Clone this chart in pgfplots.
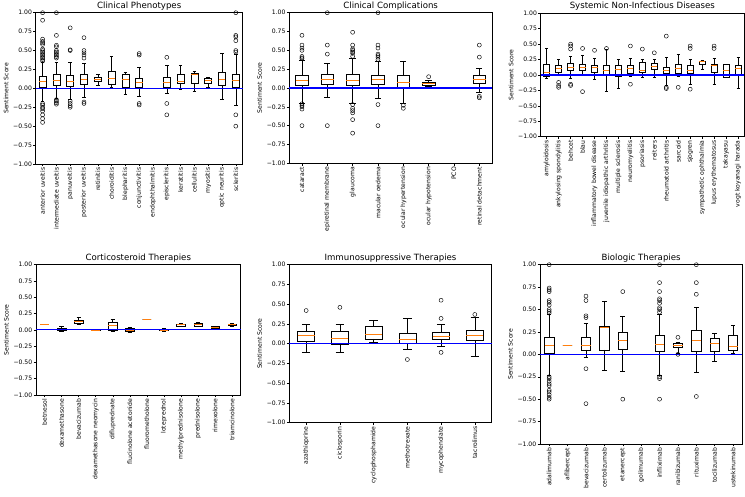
\documentclass[border=0pt]{standalone}
\usepackage{fontspec}
\setmainfont{DejaVu Sans}
\usepackage{pgfplots}
\pgfplotsset{compat=1.18}
\usepgfplotslibrary{statistics}
\definecolor{mplorange}{HTML}{FF7F0E}
\pgfplotsset{
  panel/.style={
    scale only axis, anchor=north west,
    ymin=-1, ymax=1,
    ytick={-1,-0.75,-0.5,-0.25,0,0.25,0.5,0.75,1},
    yticklabels={−1.00,−0.75,−0.50,−0.25,0.00,0.25,0.50,0.75,1.00},
    tick align=outside, tick pos=left,
    major tick length=2.4pt,
    tick style={black, line width=0.5pt},
    axis line style={line width=0.6pt},
    tick label style={font=\fontsize{6.1}{7}\selectfont},
    x tick label style={rotate=90, anchor=east, inner sep=1.2pt},
    y tick label style={inner sep=1.2pt},
    ylabel={Sentiment Score},
    ylabel style={font=\fontsize{6.1}{7}\selectfont},
    title style={font=\fontsize{8.6}{10}\selectfont, at={(0.5,1)}, anchor=south, inner sep=0pt, yshift=-3.6pt},
    clip=false,
    boxplot/draw direction=y,
    boxplot/box extend=0.5,
    boxplot/whisker extend=0.25,
    boxplot/every median/.style={draw=mplorange, line width=0.7pt},
  },
}
\newcommand{\bx}[7]{\addplot[black, line width=0.55pt, mark=o, mark size=2pt, mark options={line width=0.45pt}, boxplot prepared={draw position=#1, lower whisker=#2, lower quartile=#3, median=#4, upper quartile=#5, upper whisker=#6}] coordinates {#7};}
\begin{document}
\begin{tikzpicture}
\useasboundingbox (0,0) rectangle (745pt,-497pt);
% Panel 1
\begin{axis}[panel, at={(35.7pt,-12.7pt)}, width=207pt, height=151.3pt,
  title={Clinical Phenotypes}, xmin=0.5, xmax=15.5, xtick={1,...,15},
  xticklabels={anterior uveitis,intermediate uveitis,panuveitis,posterior uveitis,retinitis,choroiditis,blepharitis,conjunctivitis,endophthalmitis,episcleritis,keratitis,cellulitis,myositis,optic neuritis,scleritis}]
\bx{1}{-0.17}{0.01}{0.09}{0.16}{0.35}{(1,1.0)(1,0.9)(1,0.65)(1,0.62)(1,0.6)(1,0.58)(1,0.52)(1,0.5)(1,0.48)(1,0.46)(1,0.44)(1,0.42)(1,0.4)(1,0.38)(1,0.36)(1,-0.2)(1,-0.22)(1,-0.25)(1,-0.27)(1,-0.3)(1,-0.35)(1,-0.4)(1,-0.45)}
\bx{2}{-0.13}{0.04}{0.11}{0.18}{0.35}{(2,1.0)(2,0.7)(2,0.57)(2,0.55)(2,0.5)(2,0.48)(2,0.46)(2,0.44)(2,0.42)(2,0.4)(2,-0.15)(2,-0.17)(2,-0.19)(2,-0.21)}
\bx{3}{-0.15}{0.03}{0.095}{0.17}{0.35}{(3,0.8)(3,0.51)(3,0.5)(3,-0.17)(3,-0.2)(3,-0.23)(3,-0.25)}
\bx{4}{-0.12}{0.05}{0.12}{0.18}{0.33}{(4,0.67)(4,0.5)(4,0.47)(4,0.44)(4,0.4)(4,-0.18)(4,-0.2)}
\bx{5}{0.04}{0.10}{0.125}{0.15}{0.19}{}
\bx{6}{0.01}{0.06}{0.13}{0.23}{0.42}{}
\bx{7}{-0.08}{0.01}{0.12}{0.18}{0.21}{}
\bx{8}{-0.1}{0.01}{0.08}{0.13}{0.28}{(8,0.46)(8,0.44)(8,-0.2)(8,-0.22)}
\bx{10}{-0.06}{0.02}{0.08}{0.14}{0.3}{(10,0.41)(10,-0.2)(10,-0.35)}
\bx{11}{-0.01}{0.07}{0.09}{0.18}{0.3}{}
\bx{12}{-0.04}{0.07}{0.19}{0.2}{0.22}{}
\bx{13}{0.02}{0.07}{0.11}{0.13}{0.15}{}
\bx{14}{-0.15}{0.04}{0.12}{0.21}{0.47}{}
\bx{15}{-0.23}{0.02}{0.1}{0.18}{0.45}{(15,1.0)(15,0.7)(15,0.68)(15,0.63)(15,0.5)(15,0.48)(15,-0.35)(15,-0.5)}
\addplot[blue, line width=1.1pt] coordinates {(0.5,0) (15.5,0)};
\end{axis}
% Panel 2
\begin{axis}[panel, at={(289.3pt,-12.7pt)}, width=202.7pt, height=150.6pt,
  title={Clinical Complications}, xmin=0.5, xmax=8.5, xtick={1,...,8},
  xticklabels={cataract,epiretinal membrane,glaucoma,macular oedema,ocular hypertension,ocular hypotension,PCO,retinal detachment}]
\bx{1}{-0.2}{0.03}{0.1}{0.17}{0.37}{(1,0.7)(1,0.57)(1,0.53)(1,0.5)(1,0.42)(1,0.4)(1,0.39)(1,-0.21)(1,-0.23)(1,-0.25)(1,-0.28)(1,-0.5)}
\bx{2}{-0.12}{0.05}{0.11}{0.18}{0.33}{(2,1.0)(2,0.57)(2,0.45)(2,-0.5)}
\bx{3}{-0.2}{0.03}{0.1}{0.18}{0.4}{(3,0.74)(3,0.57)(3,0.52)(3,0.5)(3,0.48)(3,0.46)(3,0.42)(3,-0.22)(3,-0.27)(3,-0.3)(3,-0.33)(3,-0.42)(3,-0.6)}
\bx{4}{-0.13}{0.05}{0.12}{0.17}{0.35}{(4,1.0)(4,0.57)(4,0.53)(4,0.45)(4,0.43)(4,0.41)(4,0.38)(4,-0.22)(4,-0.5)}
\bx{5}{-0.2}{0.01}{0.07}{0.17}{0.35}{(5,-0.23)(5,-0.27)}
\bx{6}{0.02}{0.04}{0.06}{0.08}{0.1}{(6,0.15)}
\bx{8}{-0.06}{0.06}{0.11}{0.17}{0.26}{(8,0.57)(8,0.41)(8,-0.11)(8,-0.13)}
\addplot[blue, line width=1.1pt] coordinates {(0.5,0) (8.5,0)};
\end{axis}
% Panel 3
\begin{axis}[panel, at={(540.7pt,-13.3pt)}, width=203.3pt, height=123.4pt,
  title={Systemic Non-Infectious Diseases}, xmin=0.5, xmax=17.5, xtick={1,...,17},
  xticklabels={amyloidosis,ankylosing spondylitis,behcet,blau,inflammatory bowel disease,juvenile idiopathic arthritis,multiple sclerosis,neuromyelitis,psoriasis,reiters,rheumatoid arthritis,sarcoid,sjogren,sympathetic ophthalmia,lupus erythematosus,takayasu,vogt koyanagi harada}]
\bx{1}{-0.05}{-0.02}{0.04}{0.18}{0.43}{}
\bx{2}{0.0}{0.05}{0.11}{0.15}{0.25}{(2,-0.12)(2,-0.17)(2,-0.2)}
\bx{3}{-0.05}{0.08}{0.13}{0.19}{0.3}{(3,0.5)(3,0.47)(3,0.42)(3,-0.15)(3,-0.17)}
\bx{4}{0.0}{0.07}{0.12}{0.17}{0.32}{(4,0.43)(4,-0.27)}
\bx{5}{-0.07}{0.05}{0.12}{0.15}{0.27}{(5,0.4)}
\bx{6}{-0.27}{0.0}{0.07}{0.16}{0.41}{(6,0.43)}
\bx{7}{-0.22}{-0.02}{0.09}{0.15}{0.25}{}
\bx{8}{-0.02}{0.03}{0.1}{0.15}{0.27}{(8,0.47)(8,-0.15)}
\bx{9}{-0.04}{0.04}{0.08}{0.2}{0.26}{(9,0.42)}
\bx{10}{-0.04}{0.1}{0.14}{0.19}{0.26}{(10,0.36)}
\bx{11}{-0.16}{0.02}{0.07}{0.12}{0.28}{(11,0.63)(11,-0.2)(11,-0.22)}
\bx{12}{-0.02}{0.03}{0.1}{0.17}{0.33}{(12,-0.2)}
\bx{13}{-0.15}{0.03}{0.07}{0.16}{0.25}{(13,0.47)(13,0.43)(13,-0.23)}
\bx{14}{0.1}{0.18}{0.22}{0.23}{0.24}{}
\bx{15}{-0.15}{0.04}{0.15}{0.18}{0.27}{(15,0.47)(15,0.43)}
\bx{16}{-0.04}{-0.03}{0.07}{0.17}{0.18}{}
\bx{17}{-0.22}{0.0}{0.11}{0.16}{0.28}{}
\addplot[blue, line width=1.1pt] coordinates {(0.5,0) (17.5,0)};
\end{axis}
% Panel 4
\begin{axis}[panel, at={(36pt,-264.7pt)}, width=204.7pt, height=130.3pt,
  title={Corticosteroid Therapies}, xmin=0.5, xmax=12.5, xtick={1,...,12},
  xticklabels={betnesol,dexamethasone,bevacizumab,dexamethasone neomycin,difluprednate,flucinolone acetonide,fluorometholone,loteprednol,methylprednisolone,prednisolone,rimexolone,triamcinolone}]
\bx{1}{0.085}{0.085}{0.085}{0.085}{0.085}{}
\bx{2}{-0.02}{-0.01}{0.01}{0.03}{0.05}{}
\bx{3}{0.08}{0.1}{0.13}{0.15}{0.2}{}
\bx{4}{-0.01}{-0.01}{0.0}{0.01}{0.01}{}
\bx{5}{-0.02}{0.0}{0.07}{0.12}{0.17}{}
\bx{6}{-0.03}{-0.02}{0.0}{0.02}{0.04}{}
\bx{7}{0.155}{0.155}{0.155}{0.155}{0.155}{}
\bx{8}{-0.02}{-0.01}{0.0}{0.01}{0.03}{}
\bx{9}{0.05}{0.06}{0.08}{0.09}{0.1}{}
\bx{10}{0.05}{0.06}{0.08}{0.1}{0.12}{}
\bx{11}{0.01}{0.02}{0.035}{0.05}{0.06}{}
\bx{12}{0.06}{0.065}{0.08}{0.09}{0.1}{}
\addplot[blue, line width=1.1pt] coordinates {(0.5,0) (12.5,0)};
\end{axis}
% Panel 5
\begin{axis}[panel, at={(289.3pt,-264.7pt)}, width=202.4pt, height=158pt,
  title={Immunosuppressive Therapies}, xmin=0.5, xmax=6.5, xtick={1,...,6},
  xticklabels={azathioprine,ciclosporin,cyclophosphamide,methotrexate,mycophenolate,tacrolimus}]
\bx{1}{-0.11}{0.03}{0.11}{0.16}{0.25}{(1,0.42)}
\bx{2}{-0.11}{-0.01}{0.07}{0.16}{0.25}{(2,0.46)}
\bx{3}{0.02}{0.06}{0.12}{0.22}{0.3}{}
\bx{4}{-0.07}{0.0}{0.05}{0.13}{0.32}{(4,-0.2)}
\bx{5}{-0.03}{0.05}{0.09}{0.15}{0.25}{(5,0.55)(5,0.32)(5,-0.11)}
\bx{6}{-0.16}{0.04}{0.11}{0.17}{0.33}{(6,0.37)}
\addplot[blue, line width=1.1pt] coordinates {(0.5,0) (6.5,0)};
\end{axis}
% Panel 6
\begin{axis}[panel, at={(540pt,-264.7pt)}, width=202.3pt, height=179.3pt,
  title={Biologic Therapies}, xmin=0.5, xmax=11.5, xtick={1,...,11},
  xticklabels={adalimumab,aflibercept,bevacizumab,certolizumab,etanercept,golimumab,infliximab,ranibizumab,rituximab,tocilizumab,ustekinumab}]
\bx{1}{-0.23}{0.01}{0.1}{0.19}{0.45}{(1,1.0)(1,0.74)(1,0.72)(1,0.7)(1,0.6)(1,0.58)(1,0.55)(1,0.5)(1,0.48)(1,0.46)(1,-0.25)(1,-0.27)(1,-0.3)(1,-0.33)(1,-0.35)(1,-0.4)(1,-0.42)(1,-0.45)(1,-0.48)(1,-0.5)}
\bx{2}{0.1}{0.1}{0.1}{0.1}{0.1}{}
\bx{3}{-0.03}{0.05}{0.1}{0.19}{0.35}{(3,0.65)(3,0.6)(3,0.43)(3,0.41)(3,-0.16)(3,-0.55)}
\bx{4}{-0.18}{0.05}{0.3}{0.31}{0.59}{}
\bx{5}{-0.19}{0.06}{0.16}{0.25}{0.43}{(5,0.7)(5,-0.5)}
\bx{7}{-0.23}{0.03}{0.11}{0.21}{0.45}{(7,1.0)(7,0.8)(7,0.7)(7,0.62)(7,0.6)(7,0.57)(7,0.52)(7,0.5)(7,0.47)(7,-0.25)(7,-0.27)(7,-0.5)}
\bx{8}{0.01}{0.08}{0.1}{0.12}{0.14}{(8,0.19)(8,0.0)}
\bx{9}{-0.2}{0.03}{0.16}{0.27}{0.53}{(9,1.0)(9,0.8)(9,0.67)(9,-0.47)}
\bx{10}{-0.08}{0.03}{0.12}{0.18}{0.24}{}
\bx{11}{0.01}{0.05}{0.09}{0.21}{0.32}{}
\addplot[blue, line width=1.1pt] coordinates {(0.5,0) (11.5,0)};
\end{axis}
\end{tikzpicture}
\end{document}
